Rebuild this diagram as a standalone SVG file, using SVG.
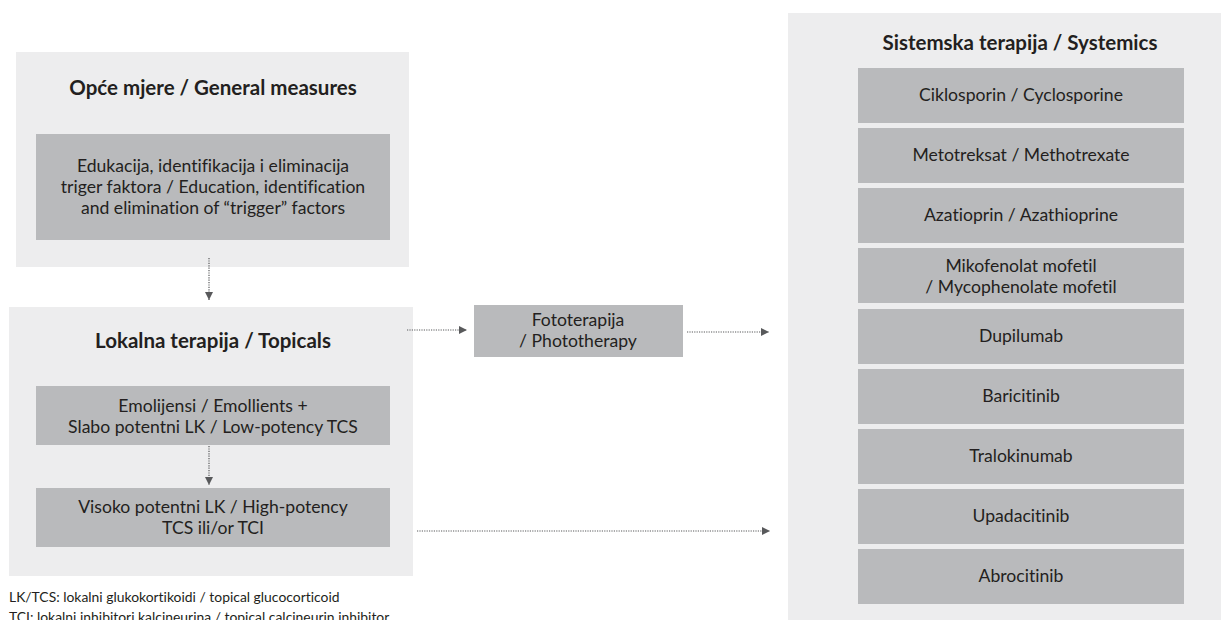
<svg xmlns="http://www.w3.org/2000/svg" width="1221" height="620" viewBox="0 0 1221 620">
<style>
text{font-variant-ligatures:none}
.outer{fill:#ededee}
.inner{fill:#b9babc}
.t{font-family:Lato,"Liberation Sans",sans-serif;font-size:17.6px;fill:#231f20;text-anchor:middle}
.h{font-family:Lato,"Liberation Sans",sans-serif;font-size:20.5px;font-weight:bold;fill:#231f20;text-anchor:middle}
.fn{font-family:Lato,"Liberation Sans",sans-serif;font-size:13.9px;fill:#231f20}
.c{stroke:#58595b;stroke-width:1.2;stroke-dasharray:1.2 1.2;fill:none}
</style>
<defs>
<marker id="ah" viewBox="0 0 10 10" refX="10" refY="5" markerWidth="8" markerHeight="9" markerUnits="userSpaceOnUse" orient="auto">
<path d="M0,0 L10,5 L0,10 z" fill="#58595b"/>
</marker>
</defs>
<rect width="1221" height="620" fill="#ffffff"/>

<g id="general">
<rect class="outer" x="16" y="52" width="393" height="215"/>
<text class="h" x="213" y="95">Opće mjere / General measures</text>
<rect class="inner" x="36" y="134" width="354" height="106"/>
<text class="t" x="213" y="172">Edukacija, identifikacija i eliminacija</text>
<text class="t" x="213" y="193">triger faktora / Education, identification</text>
<text class="t" x="213" y="214">and elimination of “trigger” factors</text>
</g>

<g id="topicals">
<rect class="outer" x="9" y="307" width="404" height="269"/>
<text class="h" x="213" y="348">Lokalna terapija / Topicals</text>
</g>
<g id="emollients">
<rect class="inner" x="36" y="386" width="354" height="59"/>
<text class="t" x="213" y="412">Emolijensi / Emollients +</text>
<text class="t" x="213" y="433">Slabo potentni LK / Low-potency TCS</text>
</g>
<g id="highpotency">
<rect class="inner" x="36" y="488" width="354" height="59"/>
<text class="t" x="213" y="513">Visoko potentni LK / High-potency</text>
<text class="t" x="213" y="534">TCS ili/or TCI</text>
</g>

<g id="phototherapy">
<rect class="inner" x="474" y="305" width="209" height="52"/>
<text class="t" x="578" y="326">Fototerapija</text>
<text class="t" x="578" y="347">/ Phototherapy</text>
</g>

<g id="systemics">
<rect class="outer" x="788" y="13" width="433" height="608"/>
<text class="h" x="1020" y="50">Sistemska terapija / Systemics</text>
</g>
<g id="sys1"><rect class="inner" x="858" y="68" width="326" height="55"/><text class="t" x="1021" y="101">Ciklosporin / Cyclosporine</text></g>
<g id="sys2"><rect class="inner" x="858" y="128" width="326" height="55"/><text class="t" x="1021" y="161">Metotreksat / Methotrexate</text></g>
<g id="sys3"><rect class="inner" x="858" y="188" width="326" height="55"/><text class="t" x="1021" y="221">Azatioprin / Azathioprine</text></g>
<g id="sys4"><rect class="inner" x="858" y="248" width="326" height="55"/><text class="t" x="1021" y="272">Mikofenolat mofetil</text><text class="t" x="1021" y="293">/ Mycophenolate mofetil</text></g>
<g id="sys5"><rect class="inner" x="858" y="309" width="326" height="55"/><text class="t" x="1021" y="342">Dupilumab</text></g>
<g id="sys6"><rect class="inner" x="858" y="369" width="326" height="55"/><text class="t" x="1021" y="402">Baricitinib</text></g>
<g id="sys7"><rect class="inner" x="858" y="429" width="326" height="55"/><text class="t" x="1021" y="462">Tralokinumab</text></g>
<g id="sys8"><rect class="inner" x="858" y="489" width="326" height="55"/><text class="t" x="1021" y="522">Upadacitinib</text></g>
<g id="sys9"><rect class="inner" x="858" y="549" width="326" height="55"/><text class="t" x="1021" y="582">Abrocitinib</text></g>

<g id="connectors">
<line class="c" x1="209" y1="258" x2="209" y2="300" marker-end="url(#ah)"/>
<line class="c" x1="209" y1="446" x2="209" y2="485" marker-end="url(#ah)"/>
<line class="c" x1="407" y1="330" x2="467" y2="330" marker-end="url(#ah)"/>
<line class="c" x1="687" y1="332" x2="769" y2="332" marker-end="url(#ah)"/>
<line class="c" x1="417" y1="531" x2="770" y2="531" marker-end="url(#ah)"/>
</g>

<g id="footnote">
<text class="fn" x="9" y="602">LK/TCS: lokalni glukokortikoidi / topical glucocorticoid</text>
<text class="fn" x="9" y="622">TCI: lokalni inhibitori kalcineurina / topical calcineurin inhibitor</text>
</g>
</svg>
